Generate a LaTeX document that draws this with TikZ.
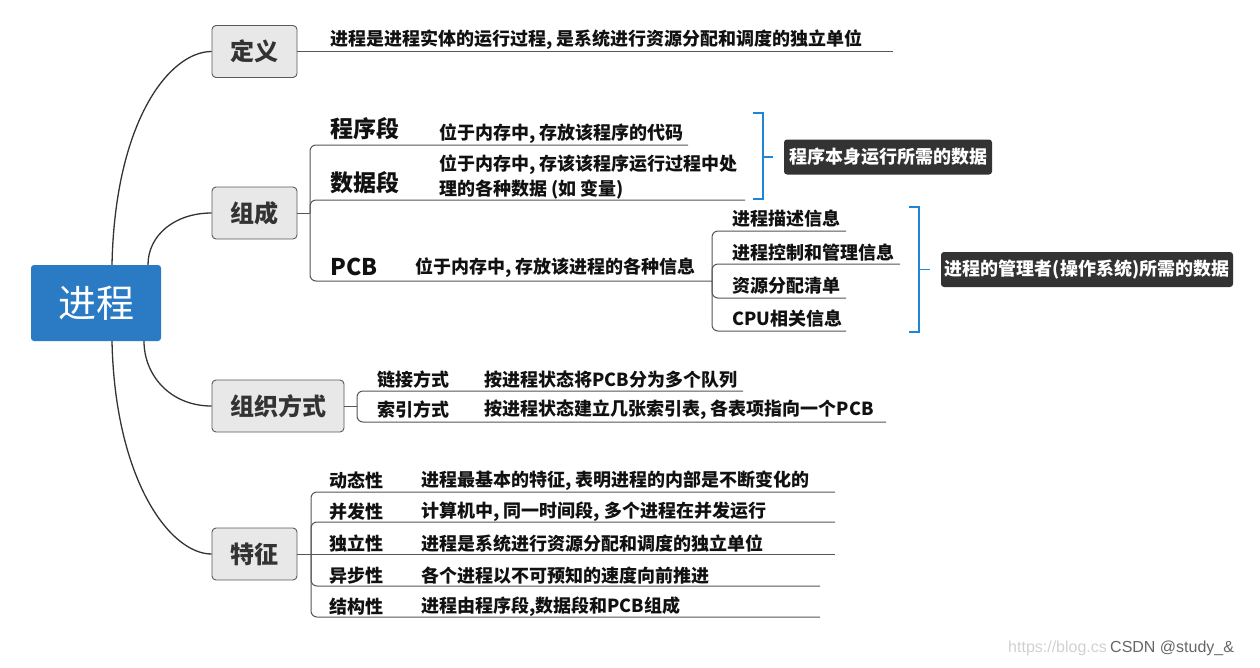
\documentclass[tikz,border=0pt]{standalone}
\usepackage{fontspec}
\setmainfont{Noto Sans CJK SC}
\newfontfamily\cjk{Noto Sans CJK SC}
\newfontfamily\wmfont{Liberation Sans}
\definecolor{rootblue}{HTML}{2B7AC4}
\definecolor{boxfill}{HTML}{E8E8E8}
\definecolor{boxborder}{HTML}{5A5A5A}
\definecolor{boxtext}{HTML}{333333}
\definecolor{linedark}{HTML}{333333}
\definecolor{linegray}{HTML}{555555}
\definecolor{bracketblue}{HTML}{1F86D6}
\definecolor{calloutbg}{HTML}{333333}
\definecolor{leaftext}{HTML}{111111}
\begin{document}
\begin{tikzpicture}[x=1pt,y=-1pt,
  rootbox/.style={fill=rootblue, rounded corners=3pt, minimum width=130pt, minimum height=76pt, inner sep=0pt, text=white, font=\cjk\fontsize{38}{40}\selectfont},
  topic/.style={draw=boxborder, fill=boxfill, rounded corners=4pt, line width=0.9pt, inner sep=0pt, minimum height=52pt, text=boxtext, font=\cjk\bfseries\fontsize{24}{28}\selectfont},
  mainlink/.style={draw=linedark, line width=1.3pt},
  branch/.style={draw=linegray, line width=1pt, rounded corners=6pt},
  leaf/.style={anchor=west, inner sep=0pt, text=leaftext, font=\cjk\bfseries\fontsize{18}{25}\selectfont, align=left},
  smallleaf/.style={leaf, font=\cjk\bfseries\fontsize{18}{22}\selectfont},
  bigleaf/.style={leaf, font=\cjk\bfseries\fontsize{23}{28}\selectfont},
  bluebr/.style={draw=bracketblue, line width=1.8pt},
  callout/.style={fill=calloutbg, rounded corners=3pt, inner sep=0pt, minimum height=35pt, text=white, font=\cjk\bfseries\fontsize{18}{22}\selectfont},
  wm/.style={anchor=west, inner sep=0pt, font=\wmfont\fontsize{16}{18}\selectfont}
]
\useasboundingbox (0,0) rectangle (1260,667);

% root and main topics
\node[rootbox] (root) at (96,303) {进程};
\node[topic, minimum width=85pt] (def) at (254.5,51.5) {定义};
\node[topic, minimum width=85pt] (comp) at (254.5,213) {组成};
\node[topic, minimum width=132pt] (org) at (278,406) {组织方式};
\node[topic, minimum width=85pt] (feat) at (254.5,554) {特征};

\draw[mainlink] ([xshift=16pt]root.north) .. controls (115,120) and (170,51.5) .. (def.west);
\draw[mainlink] ([xshift=52pt]root.north) .. controls (148,235) and (175,213) .. (comp.west);
\draw[mainlink] ([xshift=48pt]root.south) .. controls (144,375) and (170,406) .. (org.west);
\draw[mainlink] ([xshift=16pt]root.south) .. controls (115,480) and (170,554) .. (feat.west);

% definition
\coordinate (defend) at (893,51.5);
\draw[branch] (def.east) -- (defend);
\node[leaf] (deftext) at (330,40) {进程是进程实体的运行过程, 是系统进行资源分配和调度的独立单位};

% composition
\coordinate (cj) at (310,213);
\coordinate (l1) at (688,145);
\coordinate (l2) at (745,200);
\coordinate (l3) at (712,281);
\draw[branch] (comp.east) -- (cj);
\draw[branch] (cj) |- (l1);
\draw[branch] (cj) |- (l2);
\draw[branch] (cj) |- (l3);
\node[bigleaf] (seg1) at (330,129) {程序段};
\node[leaf] (seg1d) at (439,134) {位于内存中, 存放该程序的代码};
\node[bigleaf] (seg2) at (330,183) {数据段};
\node[leaf] (seg2d) at (439,176.5) {位于内存中, 存该该程序运行过程中处\\理的各种数据 (如 变量)};
\node[bigleaf] (pcb) at (330,267) {PCB};
\node[leaf] (pcbd) at (415,268) {位于内存中, 存放该进程的各种信息};

% PCB sub items
\coordinate (p1) at (846,231);
\coordinate (p2) at (900,264);
\coordinate (p3) at (846,298);
\coordinate (p4) at (846,331);
\draw[branch] (l3) |- (p1);
\draw[branch] (l3) |- (p2);
\draw[branch] (l3) |- (p3);
\draw[branch] (l3) |- (p4);
\node[leaf] (pi1) at (732,219) {进程描述信息};
\node[leaf] (pi2) at (732,252.5) {进程控制和管理信息};
\node[leaf] (pi3) at (732,286) {资源分配清单};
\node[leaf] (pi4) at (732,319) {CPU相关信息};

% blue brackets and callouts
\coordinate (b1t) at (753,113);
\coordinate (b1m) at (763,157);
\coordinate (b1b) at (753,199);
\coordinate (b1tip) at (773,157);
\draw[bluebr] (b1t) -| (b1m) |- (b1b);
\draw[bluebr] (b1m) -- (b1tip);
\node[callout, minimum width=208pt] (c1) at (888,157) {程序本身运行所需的数据};

\coordinate (b2t) at (909,207);
\coordinate (b2m) at (919,269.5);
\coordinate (b2b) at (909,332);
\coordinate (b2tip) at (930,269.5);
\draw[bluebr] (b2t) -| (b2m) |- (b2b);
\draw[bluebr] (b2m) -- (b2tip);
\node[callout, minimum width=292pt] (c2) at (1087,269.5) {进程的管理者(操作系统)所需的数据};

% organisation
\coordinate (oj) at (357,406);
\coordinate (o1) at (743,391);
\coordinate (o2) at (886,422);
\draw[branch] (org.east) -- (oj);
\draw[branch] (oj) |- (o1);
\draw[branch] (oj) |- (o2);
\node[smallleaf] (ol1) at (377,380) {链接方式};
\node[smallleaf] (od1) at (484,380) {按进程状态将PCB分为多个队列};
\node[smallleaf] (ol2) at (377,409.5) {索引方式};
\node[smallleaf] (od2) at (484,409.5) {按进程状态建立几张索引表, 各表项指向一个PCB};

% features
\coordinate (fj) at (311,554);
\coordinate (f1) at (835,492);
\coordinate (f2) at (835,522);
\coordinate (f3) at (835,554);
\coordinate (f4) at (820,586);
\coordinate (f5) at (820,617);
\draw[branch] (feat.east) -- (fj);
\draw[branch] (fj) |- (f1);
\draw[branch] (fj) |- (f2);
\draw[branch] (fj) -- (f3);
\draw[branch] (fj) |- (f4);
\draw[branch] (fj) |- (f5);
\node[smallleaf] (fl1) at (329,481) {动态性};
\node[smallleaf] (fd1) at (421,481) {进程最基本的特征, 表明进程的内部是不断变化的};
\node[smallleaf] (fl2) at (329,512) {并发性};
\node[smallleaf] (fd2) at (421,512) {计算机中, 同一时间段, 多个进程在并发运行};
\node[smallleaf] (fl3) at (329,544) {独立性};
\node[smallleaf] (fd3) at (421,544) {进程是系统进行资源分配和调度的独立单位};
\node[smallleaf] (fl4) at (329,576) {异步性};
\node[smallleaf] (fd4) at (421,576) {各个进程以不可预知的速度向前推进};
\node[smallleaf] (fl5) at (329,607) {结构性};
\node[smallleaf] (fd5) at (421,607) {进程由程序段,数据段和PCB组成};

% watermark
\node[wm, text=black!18] (wm1) at (1008,648) {https://blog.cs};
\node[wm, text=black!60] (wm2) at (1110,648) {CSDN @study\_\&};
\end{tikzpicture}
\end{document}
